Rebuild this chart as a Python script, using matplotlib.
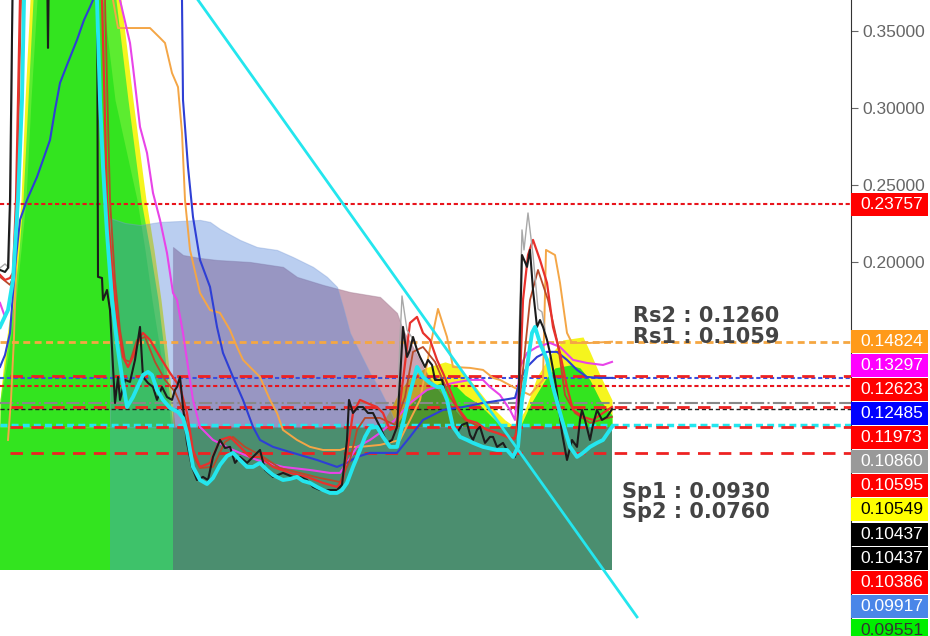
import matplotlib
matplotlib.use('Agg')
import matplotlib.pyplot as plt
import matplotlib.transforms as mtransforms
from matplotlib.patches import Rectangle
from matplotlib.ticker import FormatStrFormatter

# ---------------- data (bar index, price) ----------------
close = [(0, 0.1948), (1, 0.1935), (1.6, 0.1961), (2, 0.2403), (2.6, 0.40), (9.4, 0.40), (9.6, 0.3390),
         (9.8, 0.40), (19.4, 0.40), (19.6, 0.1903), (20.4, 0.1896), (20.6, 0.1753), (21.4, 0.1818),
         (22.0, 0.1688), (22.6, 0.1318), (23.0, 0.1084), (23.6, 0.1253), (24.0, 0.1104), (25.0, 0.1234),
         (26.0, 0.1221), (27.0, 0.1364), (28.0, 0.1578), (28.6, 0.1253), (29.6, 0.1214), (30.6, 0.1188),
         (31.4, 0.1104), (32.4, 0.1188), (33.4, 0.1123), (34.4, 0.1104), (35.0, 0.1169), (35.4, 0.1188),
         (36.0, 0.1253), (36.6, 0.1058), (37.4, 0.0825), (38.4, 0.0669), (39.4, 0.0584), (40.6, 0.0604),
         (41.6, 0.0584), (42.6, 0.0734), (44.0, 0.0844), (45.0, 0.0792), (46.0, 0.0799), (47.0, 0.0695),
         (48.0, 0.0734), (49.4, 0.0695), (50.6, 0.0734), (52.0, 0.0779), (53.0, 0.0649), (54.6, 0.0604),
         (56.6, 0.0630), (58.6, 0.0604), (60.0, 0.0604), (61.4, 0.0584), (62.6, 0.0539), (64.0, 0.0519),
         (66.0, 0.0519), (67.4, 0.0519), (68.4, 0.0552), (69.4, 0.0844), (69.8, 0.1104), (70.6, 0.1019),
         (71.6, 0.1058), (72.6, 0.1058), (73.6, 0.1019), (74.6, 0.1019), (76.0, 0.0929), (77.4, 0.0825),
         (78.4, 0.0844), (79.4, 0.0929), (80.0, 0.1234), (80.6, 0.1578), (81.4, 0.1383), (82.0, 0.1429),
         (82.6, 0.1513), (83.4, 0.1429), (84.0, 0.1383), (85.0, 0.1318), (85.6, 0.1364), (86.4, 0.1331),
         (87.0, 0.1234), (88.4, 0.1234), (89.6, 0.1058), (90.6, 0.0942), (91.4, 0.0890), (92.4, 0.0942),
         (93.4, 0.0955), (94.0, 0.0877), (94.6, 0.0844), (95.4, 0.0909), (96.0, 0.0929), (97.0, 0.0825),
         (98.0, 0.0864), (98.6, 0.0864), (99.4, 0.0799), (100.6, 0.0825), (101.4, 0.0779), (102.0, 0.0760),
         (103.0, 0.0734), (103.6, 0.0844), (104.0, 0.1558), (104.4, 0.2045), (105.0, 0.2000), (105.4, 0.1968),
         (106.0, 0.2078), (106.6, 0.1818), (107.4, 0.1578), (108.0, 0.1623), (108.6, 0.1578), (109.4, 0.1494),
         (110.0, 0.1409), (111.0, 0.1234), (111.4, 0.1149), (112.4, 0.0890), (113.4, 0.0714), (114.4, 0.0844),
         (115.4, 0.0799), (116.0, 0.0974), (116.4, 0.1039), (117.0, 0.0974), (118.0, 0.0844), (118.6, 0.0942),
         (119.4, 0.1039), (120.4, 0.0974), (121.4, 0.0994), (122.4, 0.1044)]

high_segments = [
    [(0, 0.1961), (1.0, 0.1987), (1.8, 0.1961), (2.2, 0.2403), (2.6, 0.40)],
    [(79.4, 0.0929), (80.0, 0.1500), (80.4, 0.1779), (81.4, 0.1558), (83.0, 0.1480)],
    [(103.6, 0.0844), (103.8, 0.1500), (104.4, 0.2208), (104.8, 0.2078), (105.6, 0.2318), (106.6, 0.2045),
     (107.6, 0.1695), (108.4, 0.1675), (109.0, 0.1560)],
]

cyan_ma = [(0, 0.1578), (1.6, 0.1688), (2.6, 0.1883), (3.6, 0.2403), (4.4, 0.3052), (4.8, 0.3701), (5.2, 0.40),
           (19.0, 0.40), (19.4, 0.3701), (20.0, 0.3052), (20.6, 0.2617), (21.4, 0.2188), (22.4, 0.1753),
           (23.4, 0.1474), (24.4, 0.1253), (25.4, 0.1058), (26.6, 0.1123), (28.6, 0.1266), (29.6, 0.1286),
           (30.4, 0.1266), (31.4, 0.1169), (32.6, 0.1104), (34.0, 0.1052), (35.6, 0.1026), (36.6, 0.0987),
           (37.4, 0.0890), (38.6, 0.0669), (40.0, 0.0584), (41.4, 0.0558), (42.6, 0.0597), (44.0, 0.0682),
           (45.4, 0.0740), (46.6, 0.0760), (48.0, 0.0714), (49.4, 0.0669), (50.6, 0.0669), (52.0, 0.0695),
           (53.4, 0.0649), (54.6, 0.0617), (56.6, 0.0584), (58.0, 0.0591), (59.4, 0.0604), (60.6, 0.0578),
           (62.0, 0.0565), (63.4, 0.0539), (64.6, 0.0519), (66.0, 0.0500), (67.4, 0.0500), (68.4, 0.0519),
           (69.4, 0.0565), (70.6, 0.0669), (72.0, 0.0779), (73.0, 0.0864), (74.0, 0.0922), (75.4, 0.0929),
           (76.6, 0.0864), (78.0, 0.0799), (79.4, 0.0799), (80.6, 0.0955), (82.0, 0.1149), (83.4, 0.1318),
           (84.6, 0.1253), (86.0, 0.1214), (87.4, 0.1188), (88.4, 0.1188), (89.4, 0.1104), (90.6, 0.0929),
           (92.0, 0.0864), (93.4, 0.0844), (94.6, 0.0825), (96.6, 0.0799), (99.4, 0.0779), (101.4, 0.0779),
           (102.6, 0.0734), (103.6, 0.0799), (104.4, 0.1104), (105.4, 0.1318), (106.4, 0.1539), (107.0, 0.1578),
           (108.0, 0.1474), (109.4, 0.1364), (110.6, 0.1188), (112.4, 0.0974), (114.0, 0.0799), (115.4, 0.0734),
           (116.6, 0.0760), (118.0, 0.0799), (119.4, 0.0825), (120.6, 0.0844), (122.4, 0.0929)]

red_ma = [(0, 0.1916), (1.0, 0.1883), (2.0, 0.1896), (2.6, 0.1929), (3.2, 0.2403), (3.6, 0.3052), (4.0, 0.3714),
          (4.4, 0.40), (20.0, 0.40), (20.4, 0.3701), (21.4, 0.2403), (22.4, 0.1968), (23.4, 0.1643),
          (24.6, 0.1383), (25.6, 0.1318), (26.6, 0.1383), (28.0, 0.1513), (28.6, 0.1539), (30.0, 0.1494),
          (32.0, 0.1383), (34.0, 0.1279), (36.0, 0.1188), (37.4, 0.1019), (38.6, 0.0779), (40.0, 0.0669),
          (42.0, 0.0695), (44.0, 0.0844), (46.0, 0.0864), (48.0, 0.0799), (50.0, 0.0734), (52.0, 0.0734),
          (54.6, 0.0669), (58.0, 0.0630), (61.4, 0.0604), (64.6, 0.0565), (67.4, 0.0539), (68.6, 0.0584),
          (70.6, 0.1019), (72.0, 0.1104), (73.4, 0.1084), (75.4, 0.1058), (76.6, 0.1019), (78.0, 0.0909),
          (79.4, 0.0929), (80.6, 0.1234), (82.0, 0.1604), (83.4, 0.1643), (84.6, 0.1539), (86.0, 0.1494),
          (87.4, 0.1364), (88.6, 0.1279), (90.0, 0.1169), (91.4, 0.1058), (93.4, 0.0974), (95.4, 0.0955),
          (97.4, 0.0909), (99.4, 0.0890), (101.4, 0.0864), (102.6, 0.0844), (103.4, 0.0890), (104.0, 0.1234),
          (104.6, 0.1753), (105.6, 0.2045), (106.6, 0.2143), (108.0, 0.2013), (109.4, 0.1864), (110.6, 0.1578),
          (112.0, 0.1409), (113.4, 0.1188), (114.6, 0.1039), (116.6, 0.0994), (118.6, 0.0974), (120.6, 0.1019),
          (122.4, 0.1058)]

brown_ma = [(0, 0.1903), (2.0, 0.1851), (2.8, 0.1916), (3.4, 0.2403), (3.8, 0.3052), (4.2, 0.3701), (4.6, 0.40),
            (20.6, 0.40), (21.0, 0.3701), (22.0, 0.2403), (23.0, 0.1883), (24.0, 0.1558), (25.0, 0.1364),
            (26.0, 0.1351), (27.4, 0.1494), (29.0, 0.1513), (31.0, 0.1351), (33.0, 0.1234), (35.0, 0.1156),
            (37.0, 0.1006), (38.6, 0.0747), (40.0, 0.0662), (42.6, 0.0669), (45.0, 0.0831), (46.6, 0.0864),
            (49.0, 0.0799), (52.0, 0.0747), (56.0, 0.0662), (60.0, 0.0630), (64.0, 0.0597), (68.0, 0.0571),
            (70.0, 0.0714), (71.4, 0.0909), (73.0, 0.0987), (76.0, 0.0987), (79.0, 0.0942), (81.0, 0.1123),
            (82.6, 0.1416), (84.6, 0.1448), (87.0, 0.1351), (90.0, 0.1123), (93.0, 0.0974), (96.0, 0.0929),
            (100.0, 0.0883), (103.0, 0.0851), (104.4, 0.1234), (106.0, 0.1753), (107.6, 0.1948), (109.6, 0.1753),
            (111.6, 0.1461), (113.0, 0.1136), (115.0, 0.1019), (118.0, 0.0955), (122.4, 0.0994)]

blue_ma = [(0, 0.1318), (1.0, 0.1396), (2.0, 0.1539), (3.0, 0.1968), (4.0, 0.2273), (5.4, 0.2403), (7.4, 0.2552),
           (8.6, 0.2662), (10.0, 0.2792), (11.0, 0.2987), (12.0, 0.3162), (13.4, 0.3279), (15.4, 0.3442),
           (16.8, 0.3571), (18.0, 0.3656), (18.6, 0.3701), (19.0, 0.40), (36.0, 0.40), (36.4, 0.3701),
           (36.6, 0.3052), (37.6, 0.2617), (38.6, 0.2292), (40.0, 0.2013), (42.0, 0.1838), (43.4, 0.1578),
           (44.6, 0.1409), (46.6, 0.1253), (48.6, 0.1104), (50.6, 0.0929), (52.0, 0.0844), (54.6, 0.0799),
           (58.6, 0.0760), (63.4, 0.0714), (67.4, 0.0669), (69.4, 0.0695), (71.4, 0.0734), (74.0, 0.0760),
           (79.4, 0.0760), (82.0, 0.0864), (84.6, 0.0974), (88.6, 0.1039), (92.6, 0.1058), (96.6, 0.1084),
           (100.6, 0.1104), (103.0, 0.1117), (104.0, 0.1234), (105.4, 0.1318), (107.4, 0.1383), (109.4, 0.1416),
           (111.4, 0.1416), (113.4, 0.1364), (115.4, 0.1299), (117.4, 0.1253), (120.0, 0.1247), (122.4, 0.1247)]

magenta_ma = [(0, 0.1734), (1.0, 0.1643), (1.8, 0.1700), (2.6, 0.1883), (3.6, 0.2403), (4.4, 0.3052), (4.8, 0.3701),
              (5.2, 0.40), (23.0, 0.40), (24.0, 0.3701), (26.0, 0.3422), (26.6, 0.3266), (28.0, 0.2877),
              (29.4, 0.2708), (30.6, 0.2448), (32.0, 0.2273), (33.4, 0.2058), (34.6, 0.1799), (35.4, 0.1753),
              (36.6, 0.1539), (37.6, 0.1318), (38.6, 0.1104), (40.0, 0.0929), (42.6, 0.0844), (46.6, 0.0779),
              (51.4, 0.0714), (56.6, 0.0669), (62.0, 0.0649), (66.0, 0.0630), (68.0, 0.0630), (69.4, 0.0695),
              (71.4, 0.0799), (74.0, 0.0844), (76.0, 0.0890), (79.0, 0.0974), (82.0, 0.1084), (85.4, 0.1169),
              (87.4, 0.1188), (90.6, 0.1214), (94.0, 0.1234), (96.6, 0.1234), (98.0, 0.1188), (100.0, 0.1136),
              (102.0, 0.1039), (103.0, 0.0974), (104.0, 0.1318), (105.4, 0.1409), (107.4, 0.1448), (110.0, 0.1474),
              (112.0, 0.1448), (114.6, 0.1364), (117.4, 0.1344), (120.6, 0.1331), (122.4, 0.1351)]

orange_ma = [(1.6, 0.0844), (2.2, 0.1104), (2.8, 0.1513), (3.6, 0.2403), (4.4, 0.3052), (4.8, 0.3701), (5.2, 0.40),
             (22.0, 0.40), (22.6, 0.3701), (23.6, 0.3519), (30.0, 0.3519), (32.0, 0.3455), (33.0, 0.3422),
             (34.4, 0.3227), (35.6, 0.3136), (36.4, 0.2838), (37.0, 0.2403), (38.0, 0.2078), (40.0, 0.1799),
             (42.0, 0.1688), (44.0, 0.1669), (46.0, 0.1558), (47.4, 0.1448), (48.6, 0.1364), (50.0, 0.1318),
             (52.0, 0.1253), (54.0, 0.1104), (55.4, 0.1019), (56.6, 0.0909), (59.4, 0.0844), (62.0, 0.0799),
             (64.6, 0.0779), (68.0, 0.0779), (70.0, 0.0799), (72.0, 0.0799), (76.0, 0.0812), (80.0, 0.0844),
             (84.0, 0.1104), (86.6, 0.1539), (87.6, 0.1695), (89.4, 0.1513), (90.6, 0.1318), (94.0, 0.1312),
             (96.6, 0.1299), (98.6, 0.1247), (100.0, 0.1234), (103.0, 0.1182), (106.0, 0.1136), (108.6, 0.1234),
             (109.2, 0.2078), (111.0, 0.2045), (112.0, 0.1864), (113.4, 0.1539), (114.4, 0.1474), (118.0, 0.1474),
             (122.4, 0.1482)]

trend = [(39.6, 0.3701), (127.4, -0.0305)]

# big cloud on the left (above the base block), price levels with left / right bar edges
cloud_levels = [0.0929, 0.1104, 0.1429, 0.1753, 0.2078, 0.2403, 0.3052, 0.3701, 0.40]
yellow_left = [0, 0, 1.0, 2.4, 3.4, 4.2, 5.0, 6.0, 6.4]
yellow_right = [35.0, 34.4, 33.4, 32.2, 30.8, 29.2, 26.6, 24.2, 23.6]
lime_left = [0, 0, 1.4, 2.8, 3.8, 4.6, 5.6, 6.6, 7.0]
lime_right = [34.6, 34.0, 32.8, 31.6, 30.0, 28.2, 25.6, 23.2, 22.6]
green_left = [0, 0.2, 1.8, 3.2, 4.2, 5.2, 6.2, 7.4, 7.8]
green_right = [34.2, 33.6, 32.0, 30.4, 29.0, 27.4, 23.0, 20.6, 20.0]

# small clouds on the right (bar, top)
cloud1_yellow = [(76, 0.0929), (78, 0.1039), (80, 0.1169), (82, 0.1247), (85, 0.1312), (89, 0.1351), (91, 0.1331),
                 (94, 0.1234), (98, 0.1071), (101, 0.0974), (103, 0.0929)]
cloud1_green = [(79, 0.0929), (82, 0.1071), (85, 0.1169), (88, 0.1214), (91, 0.1201), (93, 0.1136), (96, 0.1071),
                (99, 0.0974), (101, 0.0929)]
cloud2_yellow = [(103, 0.0929), (105, 0.1039), (107.4, 0.1253), (110, 0.1396), (112.6, 0.1494), (116.6, 0.1513),
                 (118, 0.1416), (120, 0.1266), (122.4, 0.1104)]
cloud2_green = [(104, 0.0929), (106, 0.1071), (109, 0.1234), (111, 0.1312), (114, 0.1331), (116, 0.1312),
                (118, 0.1234), (120, 0.1104), (122.4, 0.1006)]

blue_area = [(22, 0.2286), (25, 0.2253), (28, 0.2240), (32, 0.2260), (36, 0.2266), (40, 0.2273), (42, 0.2260),
             (44, 0.2214), (48, 0.2143), (51.4, 0.2097), (55.4, 0.2078), (58.6, 0.2032), (62.6, 0.1968),
             (65.4, 0.1903), (67.4, 0.1838), (68.6, 0.1708), (70, 0.1539), (72, 0.1409), (74, 0.1279),
             (76, 0.1169), (78, 0.1039), (79.4, 0.0929)]
rose_area = [(34.6, 0.2097), (36.6, 0.2045), (40, 0.2026), (43.4, 0.2013), (50, 0.2000), (56.6, 0.1968),
             (59.4, 0.1903), (64.6, 0.1851), (70, 0.1805), (76, 0.1773), (79.4, 0.1669), (80.6, 0.1558),
             (82.6, 0.1448), (84.6, 0.1318), (86.6, 0.1214), (88.6, 0.1136), (92, 0.1006), (95, 0.0929)]
area_floor = 0.0929
base_edges = [0, 22, 34.6, 122.4]
base_colors = ['#33e41f', '#3ec26a', '#4b8e6f']

# horizontal levels
hi_red = 0.23757
orange_lvl = 0.14824
blue_lvl = 0.12485
red_dot_lvl = 0.11973
gray_lvl = 0.10860
black_lvl = 0.10437
cyan_lvl = 0.0940
rs2, rs1, sp1, sp2 = 0.1260, 0.1059, 0.0930, 0.0760

price_labels = ['0.23757', '0.14824', '0.13297', '0.12623', '0.12485', '0.11973', '0.10860',
                '0.10595', '0.10549', '0.10437', '0.10437', '0.10386', '0.09917', '0.09551']
label_colors = ['#ff0000', '#ff9a1a', '#ff00ff', '#ff0000', '#0000ff', '#ff0000', '#999999',
                '#ff0000', '#ffff00', '#000000', '#000000', '#ff0000', '#4a86e8', '#00ee00']
label_text_colors = ['white'] * 8 + ['black', 'white', 'white', 'white', 'white', '#333333']
tick_values = [0.20, 0.25, 0.30, 0.35]


def xy(pts):
    return [p[0] for p in pts], [p[1] for p in pts]


fig = plt.figure(figsize=(9.3, 6.36), dpi=100)
ax = fig.add_axes([0, 0, 851 / 930, 1])
ax.set_xlim(0, 170.2)
ax.set_ylim(-0.0429, 0.3701)

# base block below the shaded areas; each block overlaps the next a little so no seam shows
for i, col in enumerate(base_colors):
    x0, x1 = base_edges[i], base_edges[i + 1]
    if i < len(base_colors) - 1:
        x1 += 0.6
    ax.fill_between([x0, x1], 0, area_floor, color=col, lw=0, zorder=1 + 0.1 * i)

# clouds
ax.fill_betweenx(cloud_levels, yellow_left, yellow_right, color='#f5f51e', lw=0, zorder=1)
ax.fill_betweenx(cloud_levels, lime_left, lime_right, color='#5cec30', lw=0, zorder=1)
ax.fill_betweenx(cloud_levels, green_left, green_right, color='#33e41f', lw=0, zorder=1)
for pts, col in [(cloud1_yellow, '#f5f51e'), (cloud1_green, '#33e41f'),
                 (cloud2_yellow, '#f5f51e'), (cloud2_green, '#33e41f')]:
    x, y = xy(pts)
    ax.fill_between(x, area_floor, y, color=col, lw=0, zorder=1)

# shaded areas
x, y = xy(rose_area)
ax.fill_between(x, area_floor, y, color='#781e46', alpha=0.4, lw=0.8, edgecolor='#a07890', zorder=2)
x, y = xy(blue_area)
ax.fill_between(x, area_floor, y, color='#4a7fd8', alpha=0.38, lw=0.8, edgecolor='#7f9fd8', zorder=2.2)

# horizontal levels
xe = 170.2
ax.plot([0, xe], [hi_red] * 2, color='#e8141c', lw=1.5, dashes=(2, 1.3), zorder=3)
ax.plot([0, xe], [orange_lvl] * 2, color='#f5a742', lw=2, dashes=(2.5, 1.6), zorder=3)
ax.plot([0, xe], [blue_lvl] * 2, color='#3a4ee0', lw=1.5, dashes=(2, 1.3), zorder=3)
ax.plot([0, xe], [red_dot_lvl] * 2, color='#e8141c', lw=1.5, dashes=(2, 1.3), zorder=3)
ax.plot([0, xe], [gray_lvl] * 2, color='#888888', lw=1.5, ls='-.', zorder=3)
ax.plot([0, xe], [black_lvl] * 2, color='#222222', lw=1, dashes=(3, 2), zorder=3)
ax.plot([0, xe], [cyan_lvl] * 2, color='#24e6ee', lw=2.5, dashes=(2, 1.2), zorder=3)
for lvl in (rs2, rs1, sp1, sp2):
    ax.plot([2, xe], [lvl] * 2, color='#ee2222', lw=2, dashes=(4.5, 3), zorder=3.1)

# moving averages / price
x, y = xy(orange_ma)
ax.plot(x, y, color='#f4a646', lw=1.4, zorder=4)
x, y = xy(magenta_ma)
ax.plot(x, y, color='#e844e8', lw=1.5, zorder=4)
x, y = xy(blue_ma)
ax.plot(x, y, color='#2e3fd5', lw=1.5, zorder=4)
x, y = xy(brown_ma)
ax.plot(x, y, color='#b84a2a', lw=1.3, zorder=4)
x, y = xy(red_ma)
ax.plot(x, y, color='#e8312c', lw=1.6, zorder=4)
for seg in high_segments:
    x, y = xy(seg)
    ax.plot(x, y, color='#a8a8a8', lw=1, zorder=4)
x, y = xy(close)
ax.plot(x, y, color='#1c1c1c', lw=1.5, zorder=4.2)
x, y = xy(cyan_ma)
ax.plot(x, y, color='#24e6ee', lw=2.8, zorder=5)
x, y = xy(trend)
ax.plot(x, y, color='#24e6ee', lw=2, zorder=5)

# support / resistance notes
note_kw = dict(fontsize=15, fontweight='bold', color='#444444', family='DejaVu Sans', va='baseline', zorder=6)
ax.text(126.6, 0.1610, f'Rs2 : {rs2:.4f}', **note_kw)
ax.text(126.6, 0.1474, f'Rs1 : {rs1:.4f}', **note_kw)
ax.text(124.4, 0.0468, f'Sp1 : {sp1:.4f}', **note_kw)
ax.text(124.4, 0.0338, f'Sp2 : {sp2:.4f}', **note_kw)

# right axis
for side in ('top', 'left', 'bottom'):
    ax.spines[side].set_visible(False)
ax.spines['right'].set_color('#333333')
ax.set_xticks([])
ax.yaxis.tick_right()
ax.set_yticks(tick_values)
ax.yaxis.set_major_formatter(FormatStrFormatter('%.5f'))
ax.tick_params(axis='y', length=5, color='#666666', labelcolor='#666666', labelsize=12.5, pad=3)
for lab in ax.get_yticklabels():
    lab.set_family('Liberation Sans')

# stacked price labels
trans = mtransforms.blended_transform_factory(ax.transAxes, ax.transData)
gap = 24.05 / 1540
box_h = 23 / 1540
positions = []
for lab in price_labels:
    v = float(lab)
    if positions and positions[-1] - v < gap:
        v = positions[-1] - gap
    positions.append(v)
for lab, pos, col, tcol in zip(price_labels, positions, label_colors, label_text_colors):
    ax.add_patch(Rectangle((1.0, pos - box_h / 2), 77 / 851, box_h, transform=trans,
                           facecolor=col, edgecolor='none', clip_on=False, zorder=10))
    ax.text(1.0106, pos, lab, transform=trans, va='center', ha='left', color=tcol,
            fontsize=12.5, family='Liberation Sans', clip_on=False, zorder=11)

fig.savefig('out.png', dpi=100)
